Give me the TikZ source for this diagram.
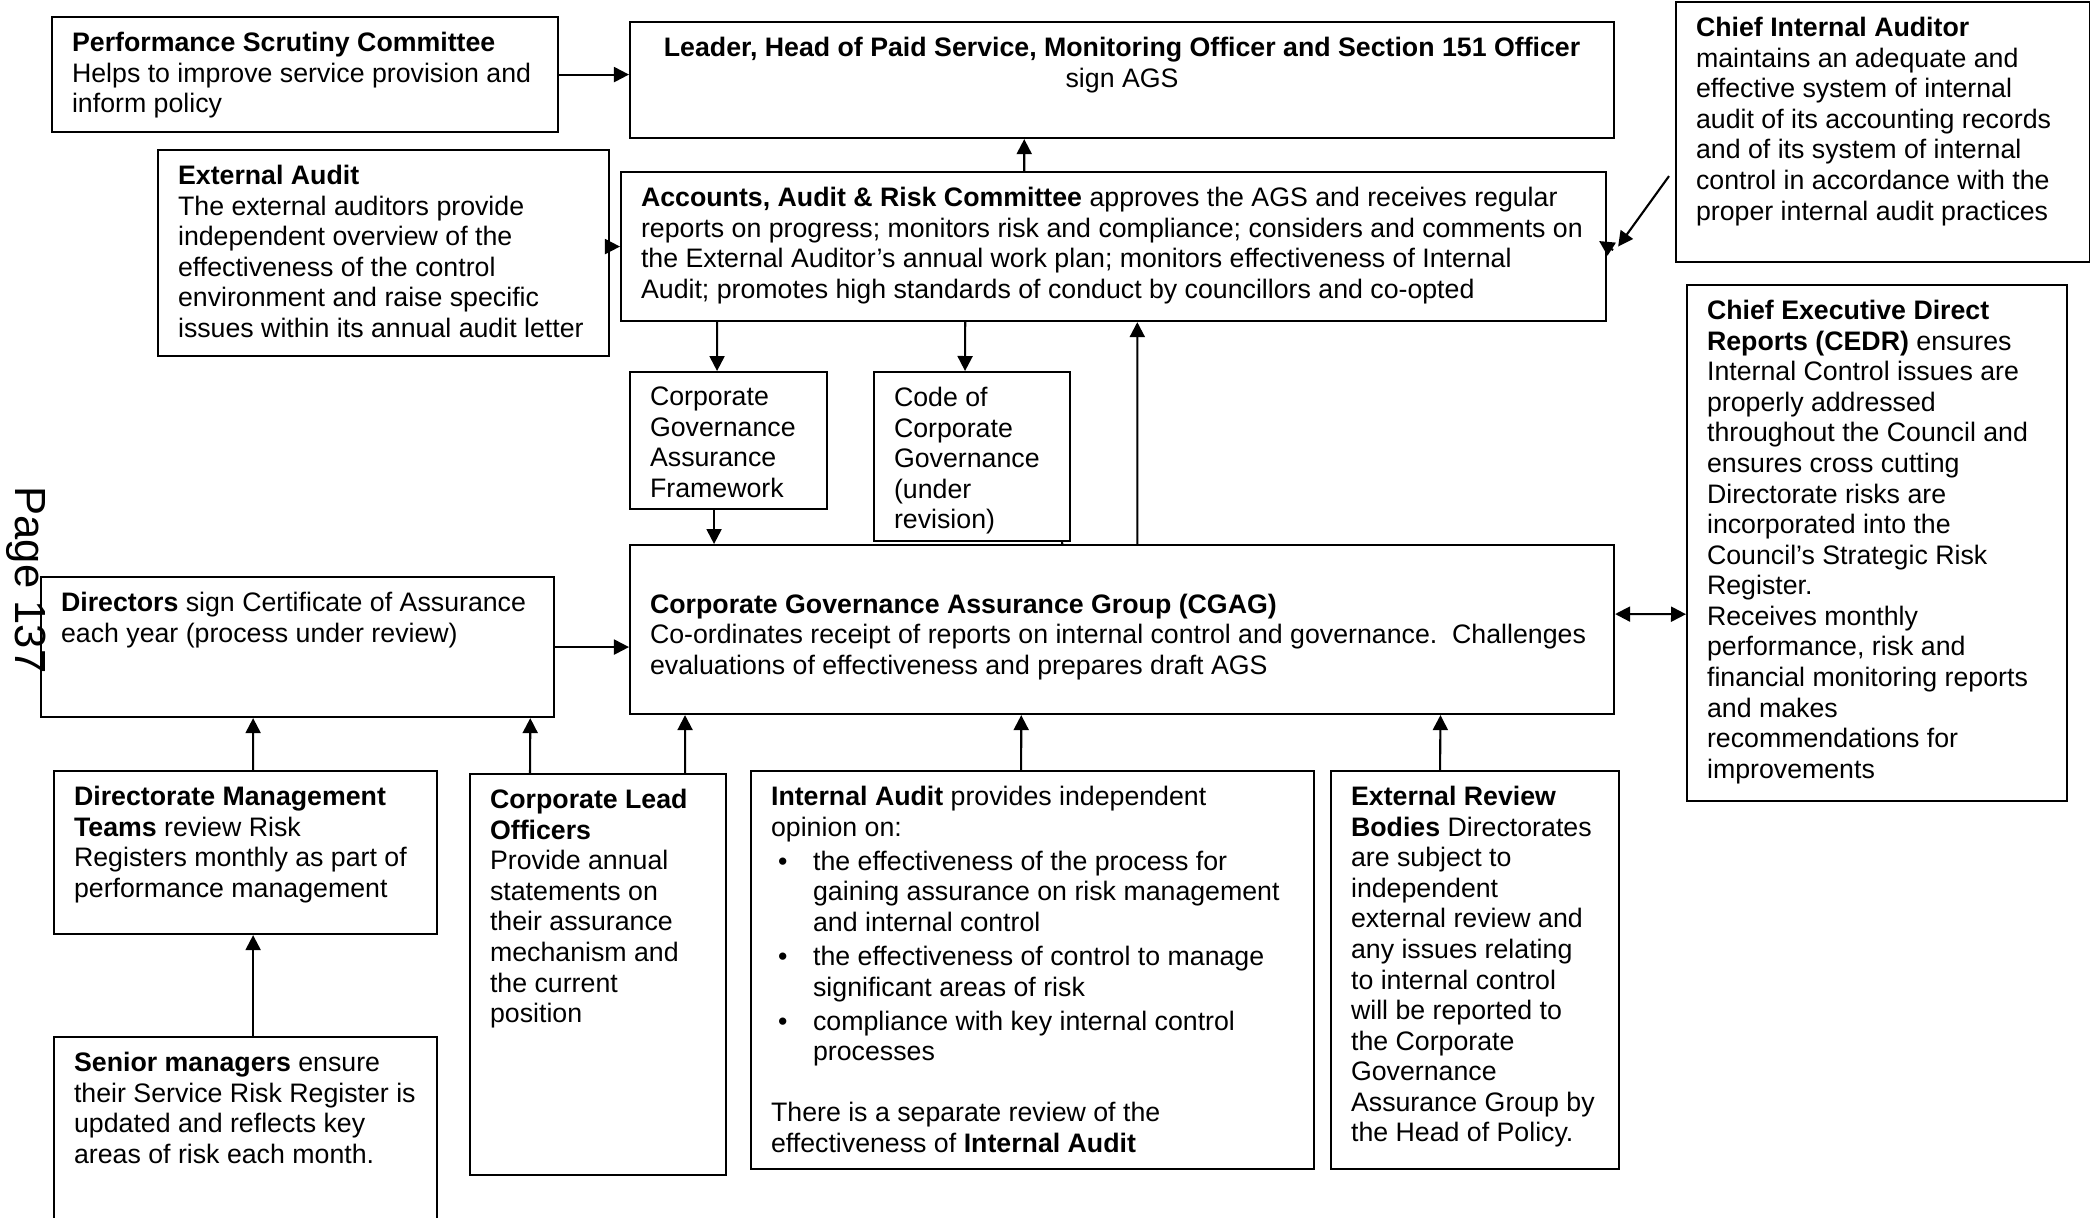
\documentclass[tikz,border=0pt]{standalone}
\usepackage{fontspec}
\setmainfont{Liberation Sans}
\usetikzlibrary{arrows.meta}

\newlength{\unitpx}
\setlength{\unitpx}{0.01cm}
% box body: width, height (in px), text kept at the top
\newcommand{\pbox}[3]{\parbox[c][#2\unitpx][t]{#1\unitpx}{\vspace*{0.15cm}\raggedright\leftskip=0.2cm #3}}
\newcommand{\blt}[1]{\par\hangindent=0.42cm\hangafter=1\noindent\hspace*{0.07cm}\makebox[0.35cm][l]{\textbullet}#1\par}

\begin{document}
\begin{tikzpicture}[x=0.01cm, y=-0.01cm, >={Triangle[length=1.5mm, width=1.5mm]}, line width=0.6pt,
    panel/.style = {draw, anchor=north west, inner sep=0pt, font=\fontsize{7.6}{8.7}\selectfont}]
    \useasboundingbox (0,0) rectangle (2090,1217);

    \node[panel] (psc) at (51,16) {\pbox{506}{115}{\textbf{Performance Scrutiny Committee}\\Helps to improve service provision and\\inform policy}};
    \node[panel] (leader) at (629,21) {\pbox{984}{116}{\centering\textbf{Leader, Head of Paid Service, Monitoring Officer and Section 151 Officer}\\sign AGS}};
    \node[panel] (ext) at (157,149) {\pbox{451}{206}{\textbf{External Audit}\\The external auditors provide\\independent overview of the\\effectiveness of the control\\environment and raise specific\\issues within its annual audit letter}};
    \node[panel] (aarc) at (620,171) {\pbox{985}{149}{\textbf{Accounts, Audit \& Risk Committee} approves the AGS and receives regular\\reports on progress; monitors risk and compliance; considers and comments on\\the External Auditor’s annual work plan; monitors effectiveness of Internal\\Audit; promotes high standards of conduct by councillors and co-opted}};
    \node[panel] (cia) at (1675,1) {\pbox{414}{260}{\textbf{Chief Internal Auditor}\\maintains an adequate and\\effective system of internal\\audit of its accounting records\\and of its system of internal\\control in accordance with the\\proper internal audit practices}};
    \node[panel] (cedr) at (1686,284) {\pbox{380}{516}{\textbf{Chief Executive Direct}\\\textbf{Reports (CEDR)} ensures\\Internal Control issues are\\properly addressed\\throughout the Council and\\ensures cross cutting\\Directorate risks are\\incorporated into the\\Council’s Strategic Risk\\Register.\\Receives monthly\\performance, risk and\\financial monitoring reports\\and makes\\recommendations for\\improvements}};
    \node[panel] (cgaf) at (629,371) {\pbox{197}{137}{Corporate\\Governance\\Assurance\\Framework}};
    \node[panel] (code) at (873,371) {\pbox{196}{169}{Code of\\Corporate\\Governance\\(under\\revision)}};
    \node[panel] (cgag) at (629,544) {\pbox{984}{169}{\vspace*{\fill}\textbf{Corporate Governance Assurance Group (CGAG)}\\Co-ordinates receipt of reports on internal control and governance.\ \ Challenges\\evaluations of effectiveness and prepares draft AGS\par\vspace*{\fill}}};
    \node[panel] (dirs) at (40,576) {\pbox{513}{140}{\textbf{Directors} sign Certificate of Assurance\\each year (process under review)}};
    \node[panel] (dmt) at (53,770) {\pbox{383}{163}{\textbf{Directorate Management}\\\textbf{Teams} review Risk\\Registers monthly as part of\\performance management}};
    \node[panel] (clo) at (469,773) {\pbox{256}{401}{\textbf{Corporate Lead}\\\textbf{Officers}\\Provide annual\\statements on\\their assurance\\mechanism and\\the current\\position}};
    \node[panel] (ia) at (750,770) {\pbox{563}{398}{\textbf{Internal Audit} provides independent\\opinion on:\vspace{1pt}
        \blt{the effectiveness of the process for\newline gaining assurance on risk management\newline and internal control}\vspace{1pt}
        \blt{the effectiveness of control to manage\newline significant areas of risk}\vspace{1pt}
        \blt{compliance with key internal control\newline processes}
        \vspace{8.7pt}\noindent There is a separate review of the\\effectiveness of \textbf{Internal Audit}}};
    \node[panel] (erb) at (1330,770) {\pbox{288}{398}{\textbf{External Review}\\\textbf{Bodies} Directorates\\are subject to\\independent\\external review and\\any issues relating\\to internal control\\will be reported to\\the Corporate\\Governance\\Assurance Group by\\the Head of Policy.}};
    \node[panel] (sm) at (53,1036) {\pbox{383}{240}{\textbf{Senior managers} ensure\\their Service Risk Register is\\updated and reflects key\\areas of risk each month.}};

    \node[rotate=-90, font=\fontsize{12.4}{14}\selectfont] (page) at (26,580) {Page 137};

    % connectors
    \draw[->] (psc.east) -- (psc.east -| leader.west);
    \draw[->] ([xshift=4.04cm]aarc.north west) -- ([xshift=3.95cm]leader.south west);
    \draw[->] (aarc.west -| ext.east) -- (aarc.west);
    \draw[->] ([xshift=-0.06cm, yshift=-1.75cm]cia.north west) -- ([xshift=0.11cm]aarc.east);
    \draw[->] ([xshift=0.06cm, yshift=-0.035cm]aarc.east) -- ([xshift=-0.08cm, yshift=0.055cm]aarc.east);
    \draw[->] ([xshift=0.97cm]aarc.south west) -- ([xshift=0.88cm]cgaf.north west);
    \draw[->] ([xshift=3.45cm]aarc.south west) -- ([xshift=0.92cm]code.north west);
    \draw[->] ([xshift=0.85cm]cgaf.south west) -- ([xshift=0.85cm]cgag.north west);
    \draw ([xshift=1.89cm]code.south west) -- ([xshift=4.33cm]cgag.north west);
    \draw[->] ([xshift=5.08cm]cgag.north west) -- ([xshift=5.17cm]aarc.south west);
    \draw[<->] ([yshift=-0.7cm]cgag.north east) -- ([yshift=-3.3cm]cedr.north west);
    \draw[->] (dirs.east) -- (dirs.east -| cgag.west);
    \draw[->] ([xshift=2cm]dmt.north west) -- ([xshift=2.13cm]dirs.south west);
    \draw[->] ([xshift=0.61cm]clo.north west) -- ([xshift=4.9cm]dirs.south west);
    \draw[->] ([xshift=2.16cm]clo.north west) -- ([xshift=0.56cm]cgag.south west);
    \draw[->] ([xshift=2.71cm]ia.north west) -- ([xshift=3.92cm]cgag.south west);
    \draw[->] ([xshift=1.1cm]erb.north west) -- ([xshift=8.11cm]cgag.south west);
    \draw[->] ([xshift=2cm]sm.north west) -- ([xshift=2cm]dmt.south west);
\end{tikzpicture}
\end{document}
